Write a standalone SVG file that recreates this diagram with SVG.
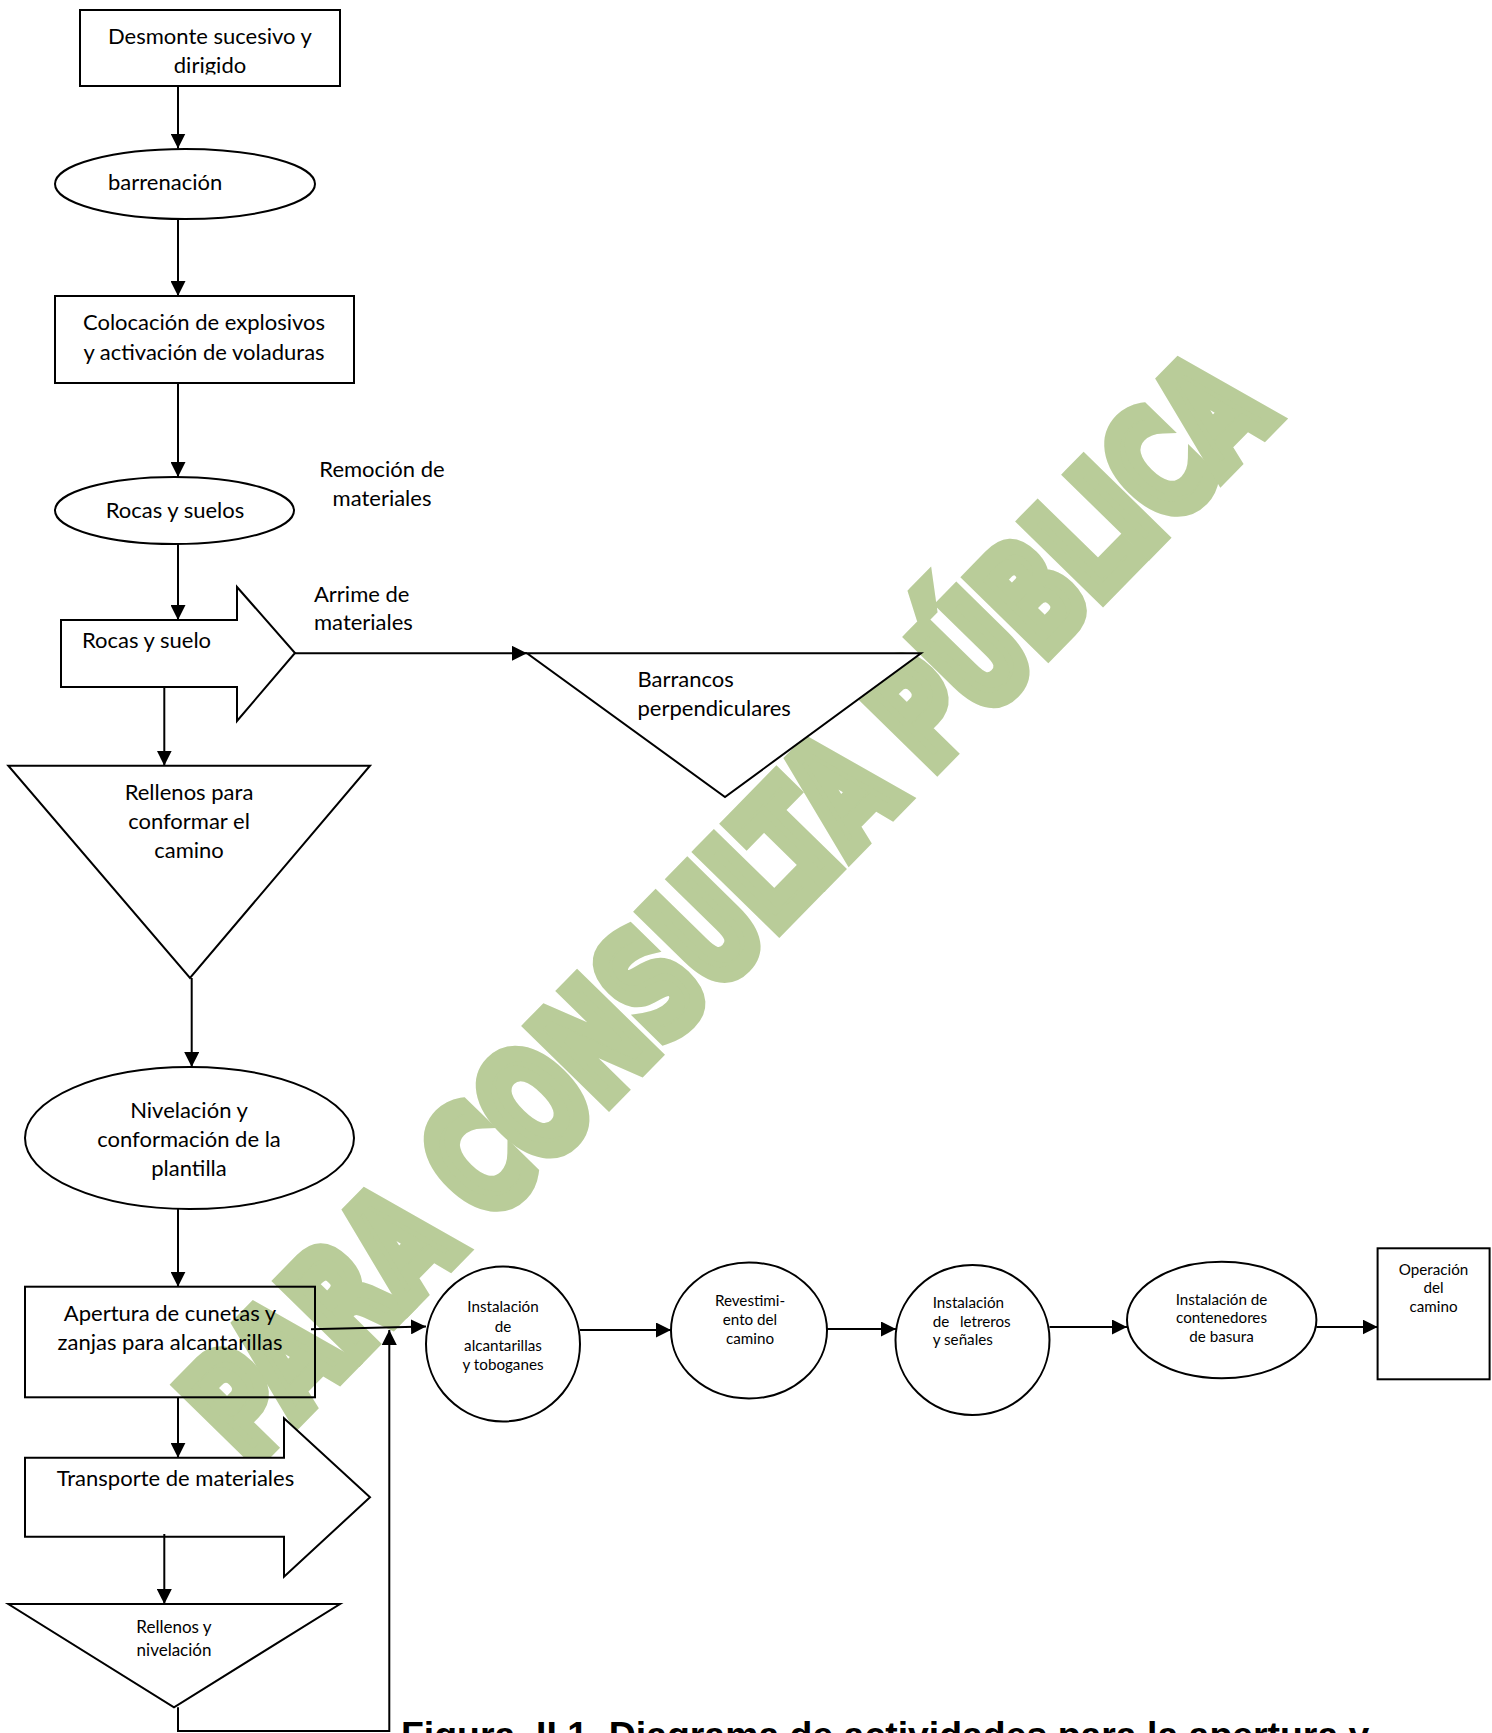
<svg xmlns="http://www.w3.org/2000/svg" width="1492" height="1733" viewBox="0 0 1492 1733">
<style>
.s{fill:#fff;stroke:#000;stroke-width:2}
.n{fill:none;stroke:#000;stroke-width:2}
.t{font-family:Lato,"Liberation Sans",sans-serif;font-size:22px;fill:#000}
.sm{font-size:15.2px}
.c{text-anchor:middle}
.e{fill:none;stroke:#000;stroke-width:2;marker-end:url(#ah)}
.wm{font-family:"DejaVu Sans","Liberation Sans",sans-serif;font-weight:bold;font-size:144px;fill:#b9cc99;stroke:#b9cc99;stroke-width:18;stroke-linejoin:miter}
.cap{font-family:"Liberation Sans",Arial,sans-serif;font-weight:bold;font-size:37.4px;fill:#000}
</style>
<defs>
<marker id="ah" markerUnits="userSpaceOnUse" markerWidth="15" markerHeight="15" refX="15" refY="7.5" orient="auto">
<path d="M0,0 L15,7.5 L0,15 z" fill="#000"/>
</marker>
<clipPath id="clip1"><rect x="80" y="10" width="260" height="64.5"/></clipPath>
</defs>
<rect width="1492" height="1733" fill="#fff"/>
<g id="watermark">
<text class="wm" transform="translate(249.1,1466.6) rotate(-45.6)" textLength="1467" lengthAdjust="spacingAndGlyphs">PARA CONSULTA PÚBLICA</text>
</g>
<g id="n1"><rect class="s" x="80" y="10" width="260" height="76"/>
<g clip-path="url(#clip1)"><text class="t c" x="210" y="44">Desmonte sucesivo y</text><text class="t c" x="210" y="72.5">dirigido</text></g></g>
<g id="n2"><ellipse class="s" cx="185" cy="184" rx="130" ry="35"/><text class="t" x="108" y="190">barrenación</text></g>
<g id="n3"><rect class="s" x="55" y="296" width="299" height="87"/><text class="t c" x="204" y="330">Colocación de explosivos</text><text class="t c" x="204" y="359.5">y activación de voladuras</text></g>
<g id="n4"><ellipse class="s" cx="174.5" cy="510.5" rx="119.5" ry="33.5"/><text class="t c" x="175" y="518">Rocas y suelos</text></g>
<g id="l1"><text class="t c" x="382" y="477">Remoción de</text><text class="t c" x="382" y="506">materiales</text></g>
<g id="n5"><polygon class="s" points="61,620 237,620 237,587 295,653 237,721 237,687 61,687"/><text class="t" x="82" y="648">Rocas y suelo</text></g>
<g id="l2"><text class="t" x="314" y="602">Arrime de</text><text class="t" x="314" y="630">materiales</text></g>
<g id="n6"><polygon class="s" points="527,653.3 921,653.3 725,797"/><text class="t" x="637.5" y="686.7">Barrancos</text><text class="t" x="637.5" y="715.7">perpendiculares</text></g>
<g id="n7"><polygon class="s" points="8.3,765.7 370,765.7 190,978"/><text class="t c" x="189" y="800">Rellenos para</text><text class="t c" x="189" y="829">conformar el</text><text class="t c" x="189" y="858">camino</text></g>
<g id="n8"><ellipse class="s" cx="189.5" cy="1138" rx="164.5" ry="71"/><text class="t c" x="189" y="1118">Nivelación y</text><text class="t c" x="189" y="1147">conformación de la</text><text class="t c" x="189" y="1176">plantilla</text></g>
<g id="n9"><rect class="n" x="25" y="1286.7" width="290" height="110.6"/><text class="t c" x="170" y="1321">Apertura de cunetas y</text><text class="t c" x="170" y="1350">zanjas para alcantarillas</text></g>
<g id="n10"><polygon class="s" points="25,1457.7 284,1457.7 284,1418.3 370,1497.3 284,1576.7 284,1536.7 25,1536.7"/><text class="t" x="56.7" y="1485.5">Transporte de materiales</text></g>
<g id="n11"><polygon class="s" points="8.3,1604 340,1604 174,1707.3"/><text class="t c" x="174" y="1633" style="font-size:17px">Rellenos y</text><text class="t c" x="174" y="1656" style="font-size:17px">nivelación</text></g>
<g id="n12"><ellipse class="s" cx="503" cy="1344" rx="77" ry="77.5"/><text class="t sm c" x="503" y="1311.7">Instalación</text><text class="t sm c" x="503" y="1331.5">de</text><text class="t sm c" x="503" y="1350.5">alcantarillas</text><text class="t sm c" x="503" y="1370">y toboganes</text></g>
<g id="n13"><ellipse class="s" cx="749" cy="1330.5" rx="78" ry="68"/><text class="t sm c" x="750" y="1306">Revestimi-</text><text class="t sm c" x="750" y="1325">ento del</text><text class="t sm c" x="750" y="1344">camino</text></g>
<g id="n14"><ellipse class="s" cx="972.5" cy="1340" rx="77" ry="75"/><text class="t sm" x="932.7" y="1308.3">Instalación</text><text class="t sm" x="932.7" y="1326.7">de</text><text class="t sm" x="960" y="1326.7">letreros</text><text class="t sm" x="932.7" y="1345">y señales</text></g>
<g id="n15"><ellipse class="s" cx="1221.7" cy="1320" rx="94.7" ry="58.3"/><text class="t sm c" x="1221.5" y="1305">Instalación de</text><text class="t sm c" x="1221.5" y="1323.3">contenedores</text><text class="t sm c" x="1221.5" y="1341.7">de basura</text></g>
<g id="n16"><rect class="s" x="1377.6" y="1248.3" width="112" height="131"/><text class="t sm c" x="1433.5" y="1275">Operación</text><text class="t sm c" x="1433.5" y="1293.3">del</text><text class="t sm c" x="1433.5" y="1311.7">camino</text></g>
<g id="connectors">
<line class="e" x1="178" y1="86" x2="178" y2="148.5"/>
<line class="e" x1="178" y1="219" x2="178" y2="296"/>
<line class="e" x1="178" y1="383" x2="178" y2="477"/>
<line class="e" x1="178" y1="544" x2="178" y2="620"/>
<line class="e" x1="295" y1="653.3" x2="527" y2="653.3"/>
<line class="e" x1="164.3" y1="687" x2="164.3" y2="765.7"/>
<line class="e" x1="191.7" y1="978" x2="191.7" y2="1067"/>
<line class="e" x1="178" y1="1209" x2="178" y2="1286.7"/>
<line class="e" x1="311" y1="1329.3" x2="426" y2="1326.5"/>
<line class="e" x1="178" y1="1397.3" x2="178" y2="1457.7"/>
<line class="e" x1="164.3" y1="1534" x2="164.3" y2="1604"/>
<polyline class="e" points="178,1707.3 178,1731 389.3,1731 389.3,1330"/>
<line class="e" x1="580" y1="1330" x2="671" y2="1330"/>
<line class="e" x1="827" y1="1329" x2="896" y2="1329"/>
<line class="e" x1="1049.5" y1="1327" x2="1127" y2="1327"/>
<line class="e" x1="1316.4" y1="1327" x2="1377.6" y2="1327"/>
</g>
<g id="caption"><text class="cap" x="401" y="1748" xml:space="preserve">Figura  II.1  Diagrama de actividades para la apertura y</text></g>
</svg>
